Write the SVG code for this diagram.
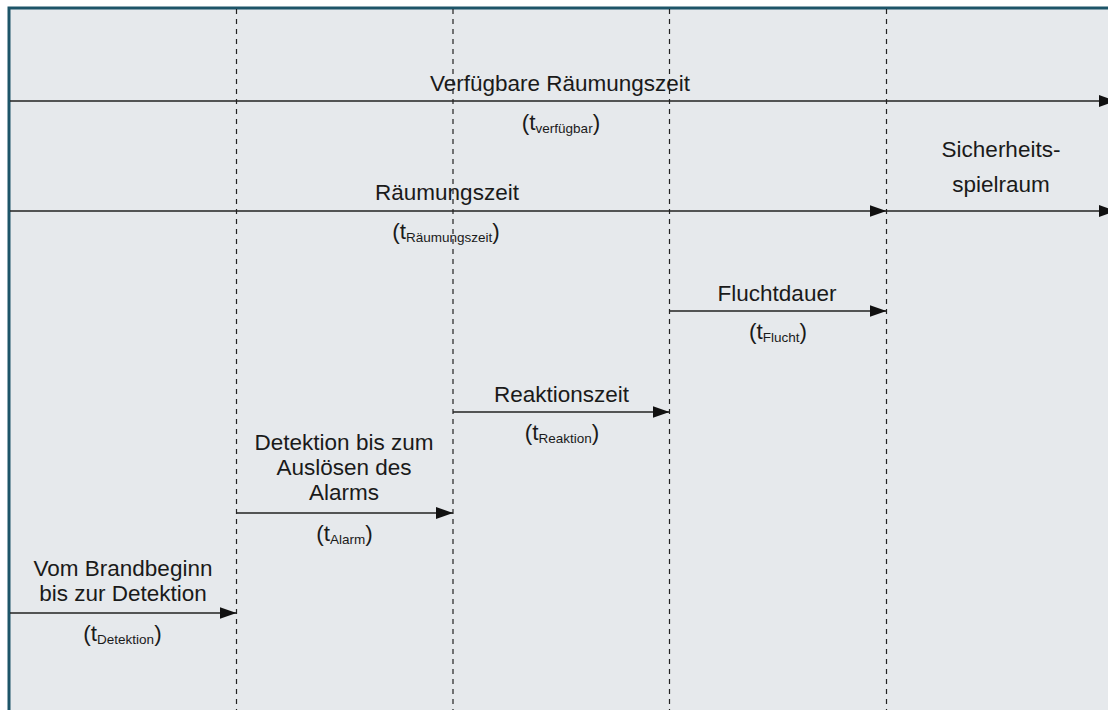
<svg xmlns="http://www.w3.org/2000/svg" width="1108" height="710" viewBox="0 0 1108 710">
  <style>
    .lbl { font-family: "Liberation Sans", Arial, sans-serif; font-size: 22.5px; fill: #1a1a1a; text-anchor: middle; }
    .sub { font-size: 13.5px; }
    .arr { stroke: #222; stroke-width: 1.5; fill: none; marker-end: url(#ah); }
    .grid { stroke: #222; stroke-width: 1.2; stroke-dasharray: 5 5; fill: none; }
  </style>
  <defs>
    <marker id="ah" markerUnits="userSpaceOnUse" markerWidth="17" markerHeight="12" refX="17" refY="6" orient="auto">
      <path d="M0,0 L17,6 L0,12 z" fill="#111"/>
    </marker>
  </defs>
  <rect x="0" y="0" width="1108" height="710" fill="#ffffff"/>
  <rect x="9" y="8" width="1110" height="720" fill="#e6e9ec" stroke="#1d5568" stroke-width="3"/>

  <g id="grid">
    <line class="grid" x1="236.5" y1="9" x2="236.5" y2="710"/>
    <line class="grid" x1="453" y1="9" x2="453" y2="710"/>
    <line class="grid" x1="669.5" y1="9" x2="669.5" y2="710"/>
    <line class="grid" x1="886.5" y1="9" x2="886.5" y2="710"/>
  </g>

  <g id="connectors">
    <line class="arr" x1="10" y1="101" x2="1116" y2="101"/>
    <line class="arr" x1="10" y1="211" x2="886.5" y2="211"/>
    <line class="arr" x1="886.5" y1="211" x2="1116" y2="211"/>
    <line class="arr" x1="669.5" y1="311" x2="886.5" y2="311"/>
    <line class="arr" x1="453" y1="412" x2="669.5" y2="412"/>
    <line class="arr" x1="236.5" y1="513" x2="453" y2="513"/>
    <line class="arr" x1="10" y1="613" x2="236.5" y2="613"/>
  </g>

  <g id="verfuegbar">
    <text class="lbl" x="560" y="91">Verfügbare Räumungszeit</text>
    <text class="lbl" x="561" y="130">(t<tspan class="sub" dy="3">verfügbar</tspan><tspan dy="-3">)</tspan></text>
  </g>
  <g id="raeumung">
    <text class="lbl" x="447" y="200">Räumungszeit</text>
    <text class="lbl" x="446" y="239">(t<tspan class="sub" dy="3">Räumungszeit</tspan><tspan dy="-3">)</tspan></text>
  </g>
  <g id="sicherheit">
    <text class="lbl" x="1001" y="157">Sicherheits-</text>
    <text class="lbl" x="1001" y="192">spielraum</text>
  </g>
  <g id="flucht">
    <text class="lbl" x="777" y="301">Fluchtdauer</text>
    <text class="lbl" x="778" y="339">(t<tspan class="sub" dy="3">Flucht</tspan><tspan dy="-3">)</tspan></text>
  </g>
  <g id="reaktion">
    <text class="lbl" x="561.5" y="402">Reaktionszeit</text>
    <text class="lbl" x="562" y="440">(t<tspan class="sub" dy="3">Reaktion</tspan><tspan dy="-3">)</tspan></text>
  </g>
  <g id="alarm">
    <text class="lbl" x="344" y="450">Detektion bis zum</text>
    <text class="lbl" x="344" y="475">Auslösen des</text>
    <text class="lbl" x="344" y="500">Alarms</text>
    <text class="lbl" x="344.5" y="541">(t<tspan class="sub" dy="3">Alarm</tspan><tspan dy="-3">)</tspan></text>
  </g>
  <g id="detektion">
    <text class="lbl" x="123" y="576">Vom Brandbeginn</text>
    <text class="lbl" x="123" y="601">bis zur Detektion</text>
    <text class="lbl" x="122.5" y="641">(t<tspan class="sub" dy="3">Detektion</tspan><tspan dy="-3">)</tspan></text>
  </g>
</svg>
